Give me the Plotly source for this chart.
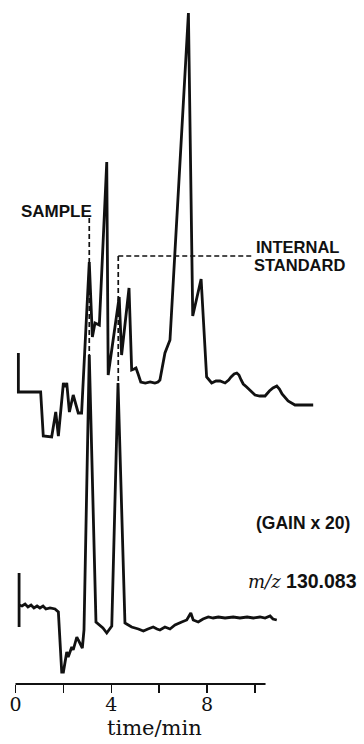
import plotly.graph_objects as go

# ---------------- data (time in min, signal in arbitrary units) ----------------
upper_time = [0.12, 0.12, 1.05, 1.16, 1.51, 1.68, 1.79, 2.00, 2.07, 2.14, 2.25, 2.41,
              2.62, 2.76, 3.08, 3.21, 3.32, 3.50, 3.81, 3.87, 4.33, 4.43, 4.74, 4.85,
              4.95, 5.03, 5.12, 5.23, 5.42, 5.62, 5.82, 5.95, 6.03, 6.24, 6.45, 7.22,
              7.40, 7.75, 7.98, 8.19, 8.37, 8.54, 8.75, 8.90, 9.00, 9.13, 9.24, 9.33,
              9.42, 9.51, 9.65, 9.79, 10.00, 10.20, 10.42, 10.60, 10.75, 10.91, 11.02,
              11.13, 11.38, 11.67, 12.43]
upper_signal = [39, 0, 0, -44, -45, -20, -44, 9, 5, 9, -20, -3,
                -21, -21, 130, 55, 69, 67, 230, 17, 95, 37, 104, 22,
                23, 24, 18, 10, 9, 10, 9, 10, 12, 39, 52, 379,
                76, 113, 15, 9, 11, 11, 9, 12, 15, 18, 19, 17,
                12, 8, 5, 2, -3, -4, -4, 1, 4, 6, 3,
                -2, -9, -13, -13]

lower_time = [0.15, 0.27, 0.40, 0.52, 0.65, 0.77, 0.90, 1.02, 1.15, 1.27, 1.44, 1.65,
              1.79, 1.93, 2.00, 2.14, 2.20, 2.35, 2.41, 2.56, 2.62, 2.79, 2.86, 3.08,
              3.36, 3.53, 3.65, 3.81, 3.95, 4.02, 4.28, 4.57, 4.64, 4.85, 5.13, 5.34,
              5.53, 5.75, 5.91, 6.03, 6.24, 6.45, 6.66, 6.78, 6.94, 7.15, 7.32, 7.42,
              7.63, 7.83, 8.05, 8.25, 8.47, 8.75, 9.09, 9.37, 9.67, 9.93, 10.21, 10.42,
              10.63, 10.75, 10.91]
lower_signal = [1, 0, 2, -1, 1, -2, 0, -2, 0, -3, -2, -3,
                -6, -66, -66, -46, -51, -41, -44, -31, -34, -42, -24, 251,
                -16, -19, -22, -27, -22, -20, 223, -17, -18, -21, -23, -25,
                -23, -21, -23, -24, -21, -23, -19, -18, -16, -14, -7, -14,
                -16, -13, -11, -12, -11, -12, -11, -12, -11, -12, -11, -12,
                -10, -13, -14]

lower_marker_time = [0.15, 0.15]
lower_marker_signal = [33, -21]

tick_values = [0, 2, 4, 6, 8, 10]
tick_labels = ["0", "", "4", "", "8", ""]

SAMPLE_RT = 3.08
IS_RT = 4.29

# ---------------- layout constants ----------------
W, H = 364, 744
PLOT_H = 684            # px height of plotting area (axis line at bottom)
PX_PER_MIN = 23.95
X0_PX = 15.5
UPPER_OFFSET = 292
LOWER_OFFSET = 78
AXIS_END = 10.44


def px_x(p):
    return p / W


def px_y(p):
    return (PLOT_H - p) / PLOT_H


line_style = dict(color="#111111", width=2.8)

fig = go.Figure()
fig.add_trace(go.Scatter(x=upper_time, y=[s + UPPER_OFFSET for s in upper_signal],
                         mode="lines", line=line_style, hoverinfo="skip"))
fig.add_trace(go.Scatter(x=lower_time, y=[s + LOWER_OFFSET for s in lower_signal],
                         mode="lines", line=line_style, hoverinfo="skip"))
fig.add_trace(go.Scatter(x=lower_marker_time, y=[s + LOWER_OFFSET for s in lower_marker_signal],
                         mode="lines", line=line_style, hoverinfo="skip"))

dash = dict(color="#111111", width=1.7, dash="5px,3px")
# SAMPLE marker line
fig.add_shape(type="line", xref="x", yref="y", x0=SAMPLE_RT, x1=SAMPLE_RT,
              y0=PLOT_H - 218, y1=LOWER_OFFSET + 251, line=dash)
# INTERNAL STANDARD marker line
fig.add_shape(type="line", xref="x", yref="y", x0=IS_RT, x1=IS_RT,
              y0=PLOT_H - 256, y1=LOWER_OFFSET + 223, line=dash)
fig.add_shape(type="line", xref="x", yref="y", x0=IS_RT, x1=9.86,
              y0=PLOT_H - 256, y1=PLOT_H - 256, line=dash)
# time axis line
fig.add_shape(type="line", xref="x", yref="paper", x0=0, x1=AXIS_END, y0=0, y1=0,
              line=dict(color="#111111", width=2))


def sans(size):
    return dict(family="Liberation Sans, Arial, sans-serif", size=size, color="#111111")


annotations = [
    dict(text="<b>SAMPLE</b>", x=px_x(56), y=px_y(211.5), font=sans(17)),
    dict(text="<b>INTERNAL</b>", x=px_x(254), y=px_y(247.5), xanchor="left", font=sans(16.5)),
    dict(text="<b>STANDARD</b>", x=px_x(252), y=px_y(264.5), xanchor="left", font=sans(16.5)),
    dict(text="<b>(GAIN x 20)</b>", x=px_x(254), y=px_y(523), xanchor="left", font=sans(17.5)),
    dict(text="<span style='font-family:DejaVu Serif, serif;font-size:18px'><i>m/z</i></span>"
              " <b>130.083</b>",
         x=px_x(246), y=px_y(581), xanchor="left", font=sans(19.5)),
    dict(text="time/min", x=px_x(154.5), y=px_y(728),
         font=dict(family="DejaVu Serif, serif", size=21, color="#111111")),
]
for a in annotations:
    a.setdefault("xanchor", "center")
    a.update(xref="paper", yref="paper", yanchor="middle", showarrow=False)

fig.update_layout(
    width=W, height=H,
    margin=dict(l=0, r=0, t=0, b=H - PLOT_H),
    paper_bgcolor="white", plot_bgcolor="white",
    showlegend=False,
    annotations=annotations,
    xaxis=dict(range=[-X0_PX / PX_PER_MIN, (W - X0_PX) / PX_PER_MIN],
               tickvals=tick_values, ticktext=tick_labels,
               ticks="outside", ticklen=8, tickwidth=1.6, tickcolor="#111111",
               ticklabelstandoff=-5,
               showgrid=False, zeroline=False, showline=False,
               tickfont=dict(family="DejaVu Serif, serif", size=19, color="#111111"),
               fixedrange=True),
    yaxis=dict(range=[0, PLOT_H], visible=False, showgrid=False, zeroline=False,
               fixedrange=True),
)

fig.write_html("out.html", config={"displayModeBar": False, "staticPlot": True},
               post_script="document.body.style.margin='0';document.body.style.overflow='hidden';")
